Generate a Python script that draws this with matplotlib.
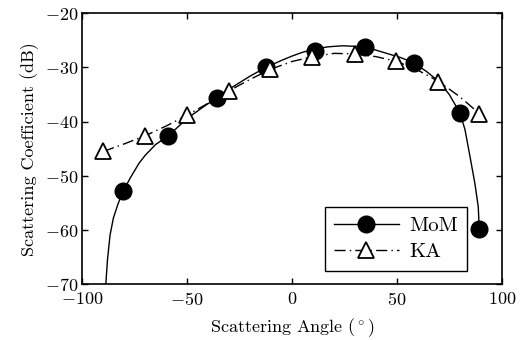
import matplotlib
matplotlib.use("Agg")
import matplotlib.pyplot as plt

plt.rcParams['font.family'] = 'serif'
plt.rcParams['font.serif'] = ['cmr10']
plt.rcParams['mathtext.fontset'] = 'cm'
plt.rcParams['axes.formatter.use_mathtext'] = True
plt.rcParams['font.size'] = 13

# MoM: smooth curve and marker samples
mom_curve_x = [-88.8, -88.0, -86.8, -85.2, -83.0, -80.5, -77, -73, -70, -65, -59.2,
               -50, -42, -35.9, -30, -20, -12.5, -5, 0, 5, 11, 17, 24, 30, 34.8,
               40, 46, 52, 58.2, 64, 70, 75, 80.1, 82.5, 84.9, 87.2, 88.8, 89.3]
mom_curve_y = [-70, -65.5, -61.0, -57.8, -55.2, -52.8, -50.3, -47.7, -46.2, -44.2, -42.7,
               -39.4, -37.2, -35.6, -34.0, -31.6, -30.0, -28.7, -27.9, -27.2, -26.6, -26.2, -26.0, -26.1, -26.3,
               -26.8, -27.5, -28.2, -29.2, -30.7, -32.6, -35.0, -38.4, -41.5, -46.5, -51.4, -55.7, -59.8]
mom_x = [-80.5, -59.2, -35.9, -12.5, 11.0, 34.8, 58.2, 80.1, 89.3]
mom_y = [-52.8, -42.7, -35.6, -30.0, -26.9, -26.3, -29.2, -38.4, -59.8]

# KA: curve and marker samples
ka_curve_x = [-90, -80, -70, -60, -50, -40, -30, -20, -10, 0, 10, 20, 30, 40, 50, 60, 70, 80, 89.3]
ka_curve_y = [-45.5, -44.1, -42.6, -40.8, -38.8, -36.6, -34.3, -32.2, -30.3, -28.9,
              -28.0, -27.4, -27.5, -28.0, -28.9, -30.5, -32.6, -35.4, -38.5]
ka_x = [-90, -70, -50.1, -30.2, -10.6, 9.4, 30, 49.5, 69.5, 89.3]
ka_y = [-45.5, -42.6, -38.8, -34.3, -30.3, -28.0, -27.5, -28.9, -32.6, -38.5]

fig = plt.figure(figsize=(5.21, 3.4), dpi=100)
ax = fig.add_axes([0.158, 0.164, 0.805, 0.797])

ka_dash = (0, (8, 3, 1, 3))
ax.plot(mom_curve_x, mom_curve_y, color='black', lw=1.0)
ax.plot(mom_x, mom_y, 'o', color='black', ms=12, mec='black', mfc='black')
ax.plot(ka_curve_x, ka_curve_y, color='black', lw=1.0, linestyle=ka_dash)
ax.plot(ka_x, ka_y, '^', ms=11, mec='black', mfc='white', mew=1.3)

# legend proxies (line + marker together)
h1, = ax.plot([], [], '-o', color='black', ms=12, lw=1.0, label='MoM')
h2, = ax.plot([], [], marker='^', color='black', ms=11, mfc='white', mew=1.3, lw=1.0,
              linestyle=ka_dash, label='KA')
leg = ax.legend(handles=[h1, h2], loc='lower right', bbox_to_anchor=(0.918, 0.05),
                numpoints=1, handlelength=3.1, fancybox=False, edgecolor='black',
                framealpha=1, borderaxespad=0, fontsize=15, labelspacing=0.35,
                borderpad=0.45, handletextpad=0.5)
leg.get_frame().set_linewidth(1.0)

ax.set_xlim(-100, 100)
ax.set_ylim(-70, -20)
ax.set_xticks([-100, -50, 0, 50, 100])
ax.set_yticks([-70, -60, -50, -40, -30, -20])
ax.tick_params(direction='in', top=True, right=True, length=4, width=1, pad=3)
ax.tick_params(axis='x', pad=5)
for s in ax.spines.values():
    s.set_linewidth(1.2)
ax.set_xlabel(r'Scattering Angle ($^\circ$)', labelpad=6)
ax.set_ylabel('Scattering Coefficient (dB)', labelpad=4)

fig.savefig('out.png', dpi=100)
